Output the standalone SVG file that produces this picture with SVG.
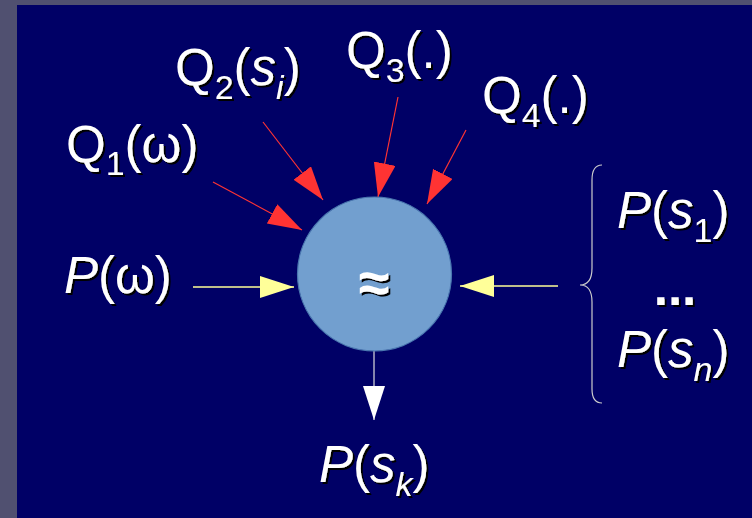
<svg xmlns="http://www.w3.org/2000/svg" width="752" height="518" viewBox="0 0 752 518">
<defs>
<style>
.t{font-family:"Liberation Sans",Arial,sans-serif;font-size:51px;fill:#ffffff;filter:url(#sh)}
.i{font-style:italic}
.sub{font-size:34px}
.red{stroke:#ff3333;stroke-width:1.2;fill:none}
</style>
<filter id="sh" x="-10%" y="-10%" width="130%" height="130%">
<feDropShadow dx="2" dy="2" stdDeviation="0.4" flood-color="#000000" flood-opacity="1"/>
</filter>
<marker id="mr" markerUnits="userSpaceOnUse" markerWidth="36" markerHeight="24" refX="34" refY="11" orient="auto">
<path d="M0,0 L34,11 L0,22 z" fill="#ff3333"/>
</marker>
<marker id="my" markerUnits="userSpaceOnUse" markerWidth="36" markerHeight="24" refX="34" refY="11" orient="auto">
<path d="M0,0 L34,11 L0,22 z" fill="#ffff99"/>
</marker>
<marker id="mw" markerUnits="userSpaceOnUse" markerWidth="36" markerHeight="24" refX="34" refY="11" orient="auto">
<path d="M0,0 L34,11 L0,22 z" fill="#ffffff"/>
</marker>
</defs>
<rect x="0" y="0" width="752" height="518" fill="#505070"/>
<rect x="17" y="5" width="735" height="513" fill="#000066"/>

<g id="connectors">
<line class="red" x1="213" y1="182" x2="302" y2="230" marker-end="url(#mr)"/>
<line class="red" x1="263" y1="122" x2="323" y2="200" marker-end="url(#mr)"/>
<line class="red" x1="398" y1="97" x2="378" y2="197" marker-end="url(#mr)"/>
<line class="red" x1="466" y1="130" x2="427" y2="204" marker-end="url(#mr)"/>
<line x1="193" y1="287" x2="294" y2="287" stroke="#ffff99" stroke-width="1.4" marker-end="url(#my)"/>
<line x1="558" y1="286" x2="460" y2="286" stroke="#ffff99" stroke-width="1.4" marker-end="url(#my)"/>
<line x1="374" y1="351" x2="374" y2="420" stroke="#dddddd" stroke-width="1.2" marker-end="url(#mw)"/>
<path d="M602,165 Q592,165 592,180 L592,268 Q592,285 580,285 Q592,285 592,302 L592,389 Q592,403 602,403" fill="none" stroke="#cccccc" stroke-width="1.2"/>
</g>

<g id="center">
<circle cx="374.5" cy="274" r="77" fill="#729fcf" stroke="#4a77b0" stroke-width="1.2"/>
<text x="374" y="302" text-anchor="middle" class="t" style="font-weight:bold;font-size:56px">≈</text>
</g>

<g id="q1">
<text class="t" x="66" y="162">Q<tspan class="sub" dy="13">1</tspan><tspan dy="-13">(ω)</tspan></text>
</g>
<g id="q2">
<text class="t" x="175" y="85">Q<tspan class="sub" dy="14">2</tspan><tspan dy="-14">(</tspan><tspan class="i">s</tspan><tspan class="sub i" dy="14">i</tspan><tspan dy="-14">)</tspan></text>
</g>
<g id="q3">
<text class="t" x="346" y="68">Q<tspan class="sub" dy="14">3</tspan><tspan dy="-14">(.)</tspan></text>
</g>
<g id="q4">
<text class="t" x="482" y="113">Q<tspan class="sub" dy="14">4</tspan><tspan dy="-14">(.)</tspan></text>
</g>
<g id="pw">
<text class="t" x="64" y="293"><tspan class="i">P</tspan>(ω)</text>
</g>
<g id="ps1">
<text class="t" x="617" y="228"><tspan class="i">P</tspan>(<tspan class="i">s</tspan><tspan class="sub" dy="14">1</tspan><tspan dy="-14">)</tspan></text>
</g>
<g id="dots">
<text class="t" x="675" y="305" text-anchor="middle" style="font-weight:bold">...</text>
</g>
<g id="psn">
<text class="t" x="617" y="367"><tspan class="i">P</tspan>(<tspan class="i">s</tspan><tspan class="sub i" dy="14">n</tspan><tspan dy="-14">)</tspan></text>
</g>
<g id="psk">
<text class="t" x="319" y="482"><tspan class="i">P</tspan>(<tspan class="i">s</tspan><tspan class="sub i" dy="14">k</tspan><tspan dy="-14">)</tspan></text>
</g>
</svg>
